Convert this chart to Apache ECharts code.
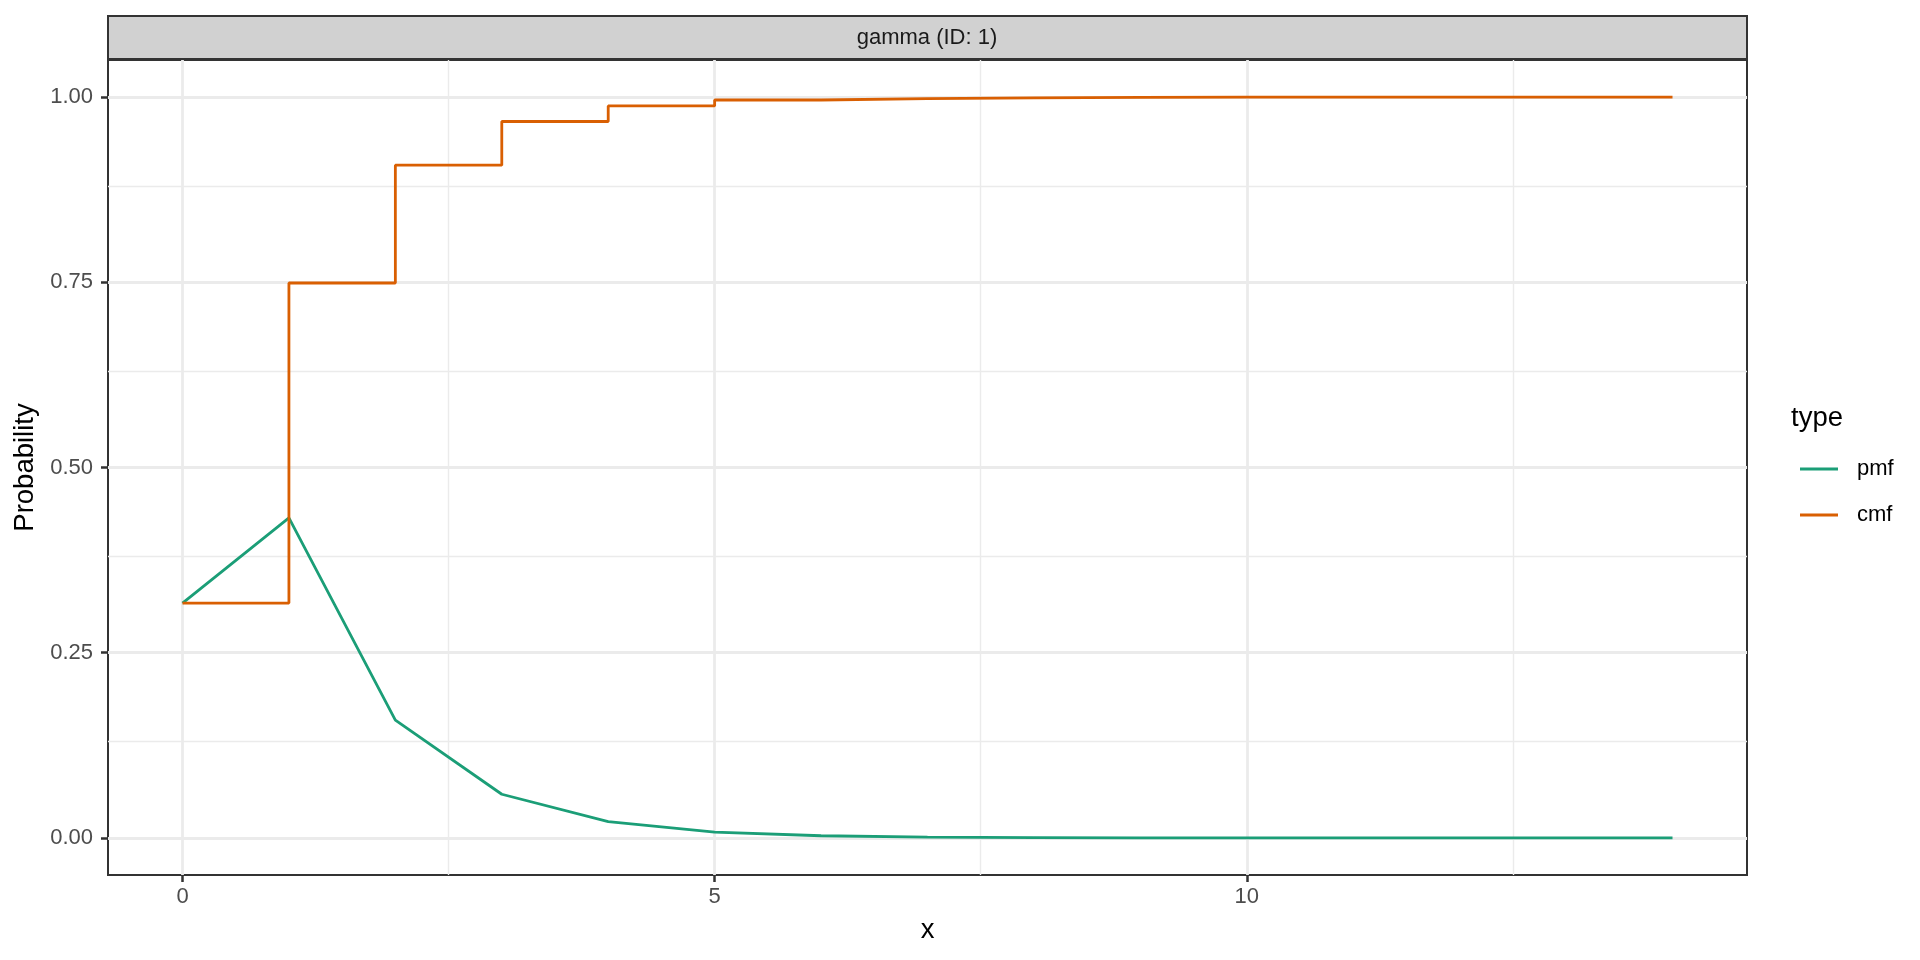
<!DOCTYPE html>
<html>
<head>
<meta charset="utf-8">
<script src="https://cdn.jsdelivr.net/npm/echarts@6/dist/echarts.min.js"></script>
<style>html,body{margin:0;padding:0;background:#fff}#c{width:1920px;height:960px}</style>
</head>
<body>
<div id="c"></div>
<script>
const xs = [0,1,2,3,4,5,6,7,8,9,10,11,12,13,14];
const pmf = [0.317,0.432,0.159,0.059,0.022,0.008,0.003,0.001,0.0005,0.0002,0.0001,0,0,0,0];
const cmf = [0.317,0.749,0.908,0.967,0.988,0.996,0.998,0.999,0.9995,1,1,1,1,1,1];
const xTicks = [0,5,10];
const xMinor = [2.5,7.5,12.5];
const yTicks = [0,0.25,0.5,0.75,1];
const yMinor = [0.125,0.375,0.625,0.875];
const stripLabel = 'gamma (ID: 1)';

const F = 'Liberation Sans, Arial, sans-serif';
const chart = echarts.init(document.getElementById('c'));
const minorLines = [];
xMinor.forEach(v => minorLines.push({xAxis: v}));
yMinor.forEach(v => minorLines.push({yAxis: v}));

chart.setOption({
  animation: false,
  grid: {left: 108, right: 173, top: 60, bottom: 85, show: true, borderColor: '#333333', borderWidth: 2, backgroundColor: 'transparent'},
  graphic: [
    {type: 'rect', shape: {x: 108, y: 16, width: 1639, height: 43}, style: {fill: '#d1d1d1', stroke: '#333333', lineWidth: 2}, z: 10},
    {type: 'text', x: 927, y: 38, style: {text: stripLabel, font: '22px ' + F, fill: '#1a1a1a', align: 'center', verticalAlign: 'middle'}, z: 11},
    {type: 'text', x: 1791, y: 418, style: {text: 'type', font: '27.5px ' + F, fill: '#000', align: 'left', verticalAlign: 'middle'}, z: 11}
  ],
  legend: {
    data: ['pmf','cmf'], orient: 'vertical', left: 1795, top: 453,
    itemWidth: 38, itemHeight: 3, itemGap: 24, icon: 'rect',
    textStyle: {fontFamily: F, fontSize: 22, color: '#000', padding: [0,0,0,14]}
  },
  xAxis: {
    type: 'value', min: -0.7, max: 14.7,
    name: 'x', nameLocation: 'middle', nameGap: 41,
    nameTextStyle: {fontFamily: F, fontSize: 27.5, color: '#000'},
    axisLine: {show: false, onZero: false},
    axisTick: {show: true, length: 7, customValues: xTicks, lineStyle: {color: '#333', width: 2.5}},
    axisLabel: {customValues: xTicks, fontFamily: F, fontSize: 22, color: '#4d4d4d', margin: 11},
    splitLine: {show: true, lineStyle: {color: '#ebebeb', width: 2.8}}
  },
  yAxis: {
    type: 'value', min: -0.05, max: 1.05,
    name: 'Probability', nameLocation: 'middle', nameGap: 69, nameRotate: 90,
    nameTextStyle: {fontFamily: F, fontSize: 27.5, color: '#000'},
    axisLine: {show: false, onZero: false},
    axisTick: {show: true, length: 7, customValues: yTicks, lineStyle: {color: '#333', width: 2.5}},
    axisLabel: {customValues: yTicks, fontFamily: F, fontSize: 22, color: '#4d4d4d', margin: 15, formatter: v => v.toFixed(2)},
    splitLine: {show: true, lineStyle: {color: '#ebebeb', width: 2.8}}
  },
  series: [
    {name: 'minor', type: 'line', data: [], z: 0, silent: true,
     markLine: {z: 1, silent: true, symbol: 'none', label: {show: false}, animation: false,
       lineStyle: {color: '#ebebeb', width: 1.4, type: 'solid'}, emphasis: {disabled: true}, data: minorLines}},
    {name: 'pmf', type: 'line', data: xs.map((x,i) => [x, pmf[i]]), showSymbol: false, symbol: 'none',
     lineStyle: {color: '#1b9e77', width: 2.8}, itemStyle: {color: '#1b9e77'}, z: 3},
    {name: 'cmf', type: 'line', step: 'end', data: xs.map((x,i) => [x, cmf[i]]), showSymbol: false, symbol: 'none',
     lineStyle: {color: '#d95f02', width: 2.8}, itemStyle: {color: '#d95f02'}, z: 4}
  ]
});
</script>
</body>
</html>
